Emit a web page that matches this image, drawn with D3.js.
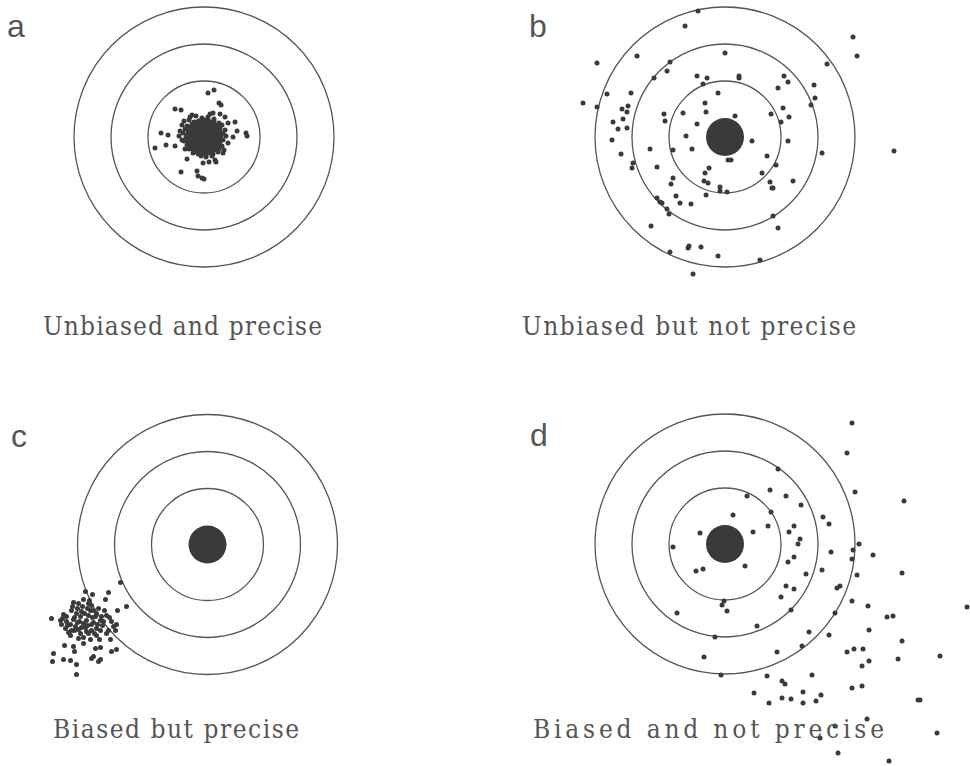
<!DOCTYPE html>
<html><head><meta charset="utf-8">
<script src="https://cdn.jsdelivr.net/npm/d3@7"></script>
<style>html,body{margin:0;padding:0;background:#fff;}svg{display:block;}</style>
</head><body>
<script>
// ---- data (offsets from target centre, target units; x right, y down) ----
const ringRadii = [56, 93, 130];
const bullRadius = 19;
const panelLetters = ["a", "b", "c", "d"];
const panelTitles = ["Unbiased and precise", "Unbiased but not precise", "Biased but precise", "Biased and not precise"];

const shotsA = [
  [4,-44],[10,-47],[15,-34],[17,-32],[-29,-28],[-23,-27],[9,-24],[16,-23],[21,-20],[31,-15],[24,-14],
  [-43,-4],[-36,-2],[33,-6],[42,-4],[43,-1],[29,0],[-49,11],[-38,8],[-29,9],[24,6],[19,16],[-17,22],
  [-1,26],[5,25],[11,23],[12,25],[-23,35],[-7,34],[-6,39],[-2,41],[0,42],
  [-14,-20],[-8,-21],[-2,-19],[4,-20],[10,-18],
  [-20,-16],[-15,-17],[-10,-15],[-5,-16],[0,-17],[5,-15],[10,-16],[15,-14],
  [-22,-12],[-17,-11],[-12,-13],[-7,-12],[-2,-11],[3,-12],[8,-13],[13,-11],[18,-12],
  [-19,-8],[-14,-8],[-9,-7],[-4,-9],[1,-8],[6,-7],[11,-8],[16,-9],[21,-7],
  [-21,-4],[-16,-3],[-11,-5],[-6,-4],[-1,-3],[4,-4],[9,-5],[14,-3],[19,-4],
  [-18,0],[-13,1],[-8,0],[-3,-1],[2,0],[7,1],[12,0],[17,-1],
  [-20,4],[-15,5],[-10,3],[-5,4],[0,5],[5,3],[10,4],[15,5],[19,3],
  [-17,8],[-12,9],[-7,7],[-2,8],[3,9],[8,7],[13,8],[18,9],
  [-15,12],[-10,13],[-5,11],[0,12],[5,13],[10,11],[15,12],
  [-11,16],[-6,17],[-1,15],[4,16],[9,17],[14,15],
  [-3,19],[2,20],[8,19],[-24,-6],[-25,-1],[-22,3],[-19,12],[20,13],[22,-1],[-12,-22],[6,-23]
];
const shotsB = [
  [-27,-126],[-40,-111],[128,-100],[132,-81],[-128,-74],[-88,-81],[0,-84],[102,-73],[-55,-75],[-58,-66],
  [-71,-59],[-28,-61],[-18,-59],[14,-61],[14,-59],[59,-61],[63,-55],[89,-52],[53,-49],[-22,-53],
  [-7,-44],[-118,-43],[-94,-44],[-142,-34],[-128,-30],[-103,-28],[-97,-31],[-98,-25],[90,-39],[86,-32],
  [-20,-34],[-19,-25],[-61,-23],[-42,-24],[10,-21],[46,-23],[58,-29],[64,-20],[56,-15],[-112,-15],
  [-102,-18],[-107,-8],[-98,-9],[-60,-16],[-28,-13],[-113,3],[-39,-1],[27,4],[63,4],[-75,12],
  [-52,13],[-33,12],[97,16],[169,14],[-104,17],[-92,26],[-93,31],[-68,30],[3,23],[6,23],
  [42,19],[51,28],[-16,31],[-20,36],[37,36],[-52,41],[-54,47],[-21,44],[-17,46],[45,45],
  [68,44],[-5,50],[-5,54],[2,55],[47,51],[48,51],[-19,58],[-49,59],[-68,61],[-65,65],
  [-63,66],[-45,66],[-34,67],[-58,72],[-56,77],[48,79],[-74,89],[53,91],[-36,109],[-37,111],
  [-24,110],[-55,115],[-7,119],[35,123],[-32,137]
];
const shotsC = [
  [-87,38],[-122,47],[-115,50],[-99,48],[-102,55],[-81,62],[-90,66],[-134,58],[-124,55],[-130,64],
  [-116,61],[-117,66],[-111,69],[-101,71],[-144,70],[-156,74],[-147,76],[-141,77],[-134,75],[-127,72],
  [-121,76],[-114,78],[-107,76],[-96,77],[-94,82],[-92,86],[-142,84],[-136,86],[-129,85],[-122,83],
  [-116,86],[-107,86],[-101,89],[-97,95],[-137,91],[-124,93],[-111,91],[-143,101],[-134,102],[-124,99],
  [-112,104],[-107,103],[-96,107],[-91,105],[-154,109],[-133,107],[-155,117],[-144,115],[-137,116],[-131,120],
  [-116,114],[-114,112],[-109,117],[-107,115],[-131,130],
  [-131,69],[-126,67],[-137,80],[-132,82],[-119,71],[-112,72],[-106,72],[-124,79],[-141,72],[-127,89],
  [-119,89],[-114,66],[-109,64],[-104,77],[-129,59],[-136,66],[-146,80],[-99,86],[-91,80],[-118,56],
  [-128,77],[-120,81],[-133,73],[-110,80],[-139,88],[-117,95],
  [-125,62],[-120,64],[-115,73],[-123,69],[-130,78],[-126,83],[-116,80],[-111,84],[-105,81],[-133,86],
  [-140,81],[-121,87],[-113,89],[-129,94],[-108,95],[-119,59],[-103,66],[-98,73],[-135,62],[-145,74]
];
const shotsD = [
  [127,-121],[122,-91],[53,-75],[130,-52],[179,-43],[45,-54],[61,-48],[76,-39],[22,-48],[46,-32],
  [8,-29],[98,-27],[104,-20],[43,-18],[69,-18],[64,-12],[-25,-11],[28,-12],[75,-5],[73,0],
  [-52,3],[134,0],[128,6],[127,15],[106,8],[148,11],[69,13],[63,18],[20,22],[-22,25],
  [-29,27],[97,26],[81,30],[132,31],[177,29],[115,42],[112,44],[61,42],[69,45],[56,53],
  [-1,57],[-3,61],[2,67],[127,57],[143,62],[66,66],[110,69],[-48,69],[162,73],[168,72],
  [242,63],[32,82],[84,88],[104,91],[144,86],[-10,93],[177,97],[77,102],[52,108],[122,108],
  [129,105],[138,105],[144,117],[137,122],[173,115],[215,112],[-21,113],[-4,131],[42,132],[57,137],
  [60,140],[87,131],[127,144],[137,142],[29,149],[44,159],[57,154],[66,155],[78,148],[78,159],
  [91,157],[96,151],[193,156],[195,156],[142,175],[110,182],[95,194],[212,189],[113,209],[164,217]
];
const panelShots = [shotsA, shotsB, shotsC, shotsD];

// ---- layout ----
const W = 970, H = 766;
const centres = [[204,137],[725,137],[207.5,544.5],[725,544]];
const letterPos = [[7,37],[529,37],[11,447],[530,446]];
const titlePos = [[43,335,279],[522,335,334],[53,738,246],[533,738,351]];
const ink = "#3a3a3a";

const svg = d3.select("body").append("svg").attr("width", W).attr("height", H);

panelShots.forEach((shots, i) => {
  const [cx, cy] = centres[i];
  const x = d3.scaleLinear().domain([-150, 150]).range([cx - 150, cx + 150]);
  const y = d3.scaleLinear().domain([-150, 150]).range([cy - 150, cy + 150]);
  const r = d3.scaleLinear().domain([0, 150]).range([0, 150]);
  const g = svg.append("g");
  g.selectAll("circle.ring").data(ringRadii).join("circle")
    .attr("class", "ring")
    .attr("cx", x(0)).attr("cy", y(0)).attr("r", d => r(d))
    .attr("fill", "none").attr("stroke", "#555").attr("stroke-width", 1.3);
  g.append("circle").attr("cx", x(0)).attr("cy", y(0)).attr("r", r(bullRadius)).attr("fill", ink);
  g.selectAll("circle.shot").data(shots).join("circle")
    .attr("class", "shot")
    .attr("cx", d => x(d[0])).attr("cy", d => y(d[1])).attr("r", 2.5)
    .attr("fill", ink);

  svg.append("text").attr("x", letterPos[i][0]).attr("y", letterPos[i][1])
    .attr("font-family", "Liberation Sans, Arial, sans-serif").attr("font-size", 32)
    .attr("fill", "#555").text(panelLetters[i]);

  svg.append("text").attr("x", titlePos[i][0]).attr("y", titlePos[i][1])
    .attr("font-family", "DejaVu Serif, serif").attr("font-stretch", "condensed")
    .attr("font-size", 26)
    .attr("textLength", titlePos[i][2]).attr("lengthAdjust", "spacing")
    .attr("fill", "#555").text(panelTitles[i]);
});
</script>
</body></html>
